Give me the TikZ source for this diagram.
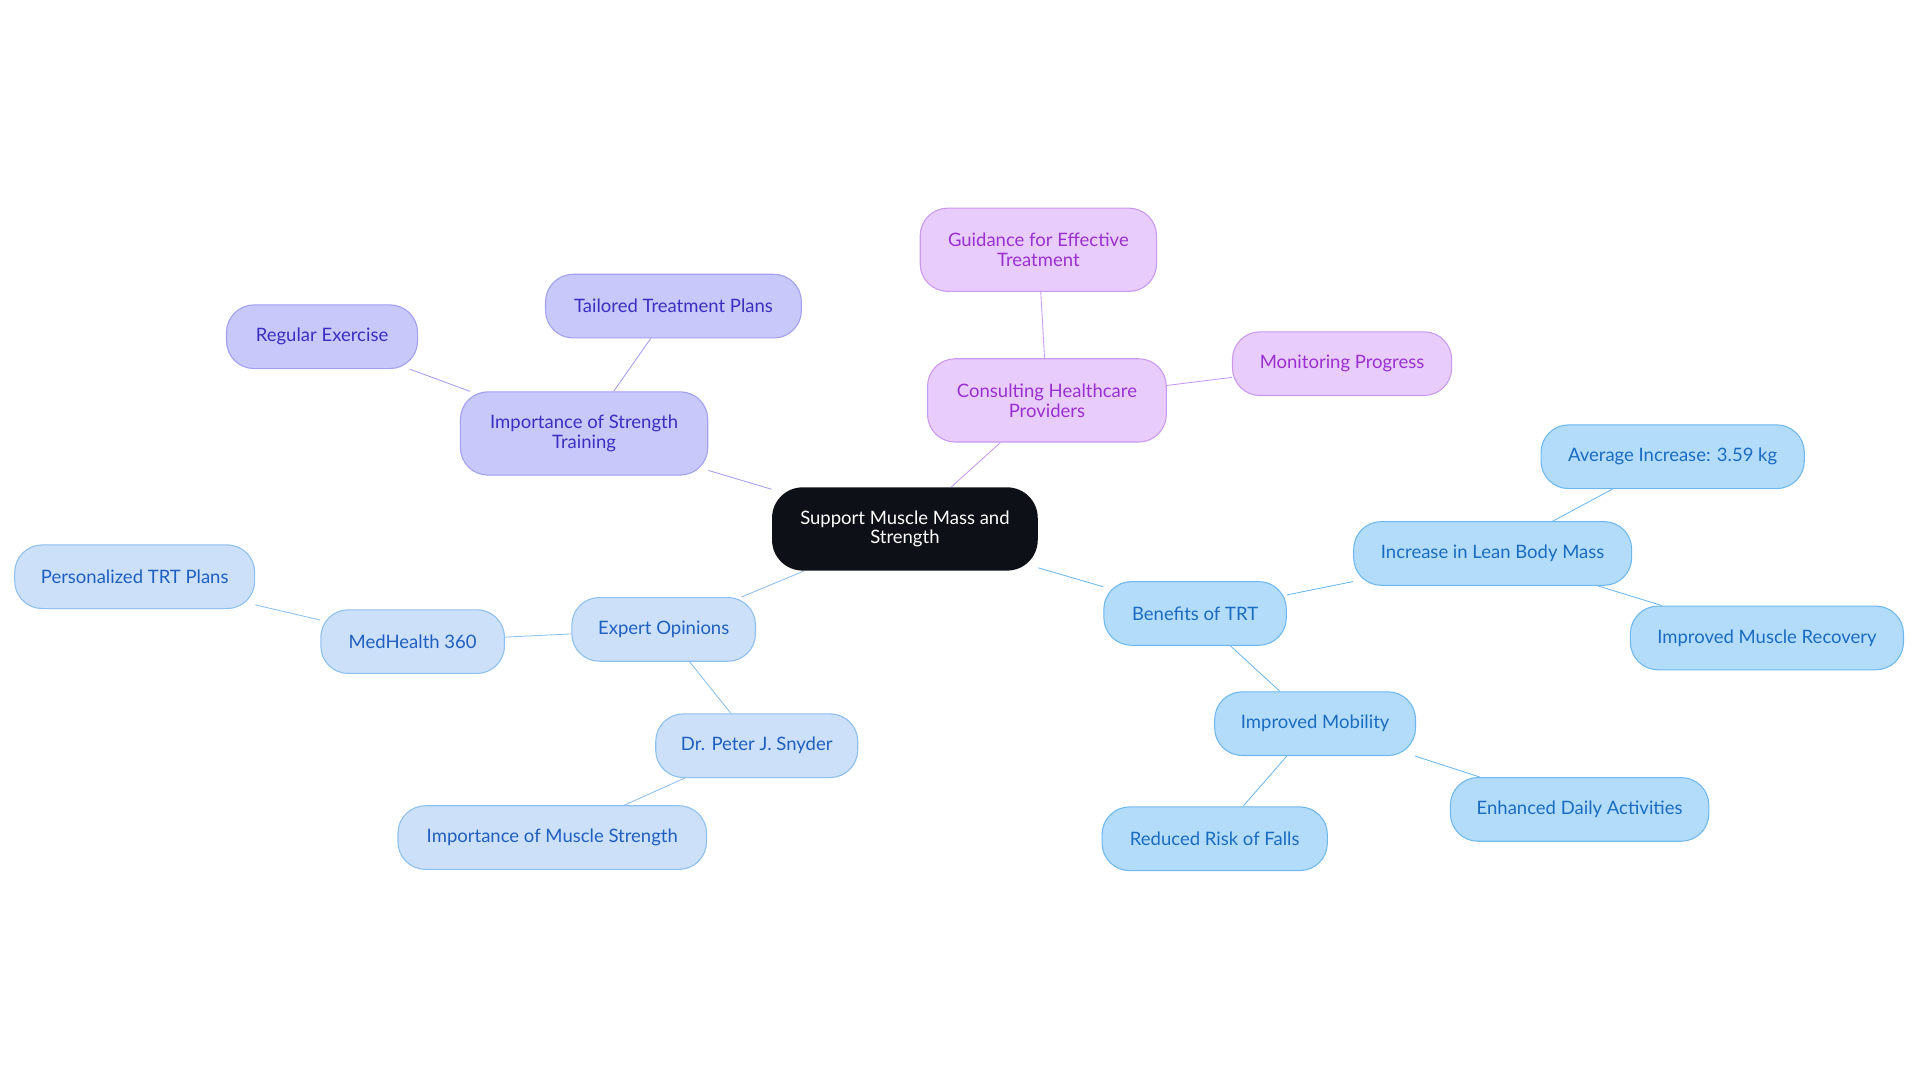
\documentclass[tikz,border=0pt]{standalone}
\usepackage{fontspec}
\setmainfont{Lato}
\usetikzlibrary{backgrounds}
\definecolor{rootfill}{HTML}{0D1117}
\definecolor{vioFill}{HTML}{C8C8FA}\definecolor{vioLine}{HTML}{A3A0F0}\definecolor{vioText}{HTML}{3A2FC0}
\definecolor{pinkFill}{HTML}{E8CCFC}\definecolor{pinkLine}{HTML}{C99AF0}\definecolor{pinkText}{HTML}{9B30D0}
\definecolor{skyFill}{HTML}{B3DCFA}\definecolor{skyLine}{HTML}{6FB8EE}\definecolor{skyText}{HTML}{1A6CC0}
\definecolor{paleFill}{HTML}{CCE0FA}\definecolor{paleLine}{HTML}{8EC0EE}\definecolor{paleText}{HTML}{1F5FC0}
\tikzset{
  box/.style={rounded corners=0.45cm, align=center, inner sep=0pt, minimum height=1.04cm,
    font=\fontsize{8.6}{9.2}\selectfont, line width=0.5pt},
  root/.style={box, fill=rootfill, text=white, minimum height=1.36cm, rounded corners=0.5cm},
  vio/.style={box, fill=vioFill, draw=vioLine, text=vioText},
  pink/.style={box, fill=pinkFill, draw=pinkLine, text=pinkText},
  sky/.style={box, fill=skyFill, draw=skyLine, text=skyText},
  pale/.style={box, fill=paleFill, draw=paleLine, text=paleText},
  w/.style={minimum width=#1*0.02cm}
}
\begin{document}
\begin{tikzpicture}[x=0.02cm,y=-0.02cm]
\useasboundingbox (0,0) rectangle (1568,884);
% root
\node[root, w=217] (c) at (739,432) {Support Muscle Mass and\\Strength};
% strength training
\node[vio, w=202, minimum height=1.36cm] (s1) at (477,354) {Importance of Strength\\Training};
\node[vio, w=156] (s1a) at (263,275) {Regular Exercise};
\node[vio, w=209] (s1b) at (550,250) {Tailored Treatment Plans};
% healthcare providers
\node[pink, w=195, minimum height=1.36cm] (p1) at (855,327) {Consulting Healthcare\\Providers};
\node[pink, w=193, minimum height=1.36cm] (p1a) at (848,204) {Guidance for Effective\\Treatment};
\node[pink, w=179] (p1b) at (1096,297) {Monitoring Progress};
% benefits
\node[sky, w=149] (b1) at (976,501) {Benefits of TRT};
\node[sky, w=227] (b1a) at (1219,452) {Increase in Lean Body Mass};
\node[sky, w=215] (b1a1) at (1366,373) {Average Increase: 3.59 kg};
\node[sky, w=223] (b1a2) at (1443,521) {Improved Muscle Recovery};
\node[sky, w=164] (b1b) at (1074,591) {Improved Mobility};
\node[sky, w=184] (b1b1) at (992,685) {Reduced Risk of Falls};
\node[sky, w=211] (b1b2) at (1290,661) {Enhanced Daily Activities};
% experts
\node[pale, w=150] (e1) at (542,514) {Expert Opinions};
\node[pale, w=150] (e1a) at (337,524) {MedHealth 360};
\node[pale, w=196] (e1a1) at (110,471) {Personalized TRT Plans};
\node[pale, w=165] (e1b) at (618,609) {Dr. Peter J. Snyder};
\node[pale, w=252] (e1b1) at (451,684) {Importance of Muscle Strength};
% connectors
\begin{scope}[on background layer, line width=1pt]
\draw[vioLine] (c) -- (s1) (s1) -- (s1a) (s1) -- (s1b);
\draw[pinkLine] (c) -- (p1) (p1) -- (p1a) (p1) -- (p1b);
\draw[skyLine] (c) -- (b1) (b1) -- (b1a) (b1a) -- (b1a1) (b1a) -- (b1a2)
  (b1) -- (b1b) (b1b) -- (b1b1) (b1b) -- (b1b2);
\draw[paleLine] (c) -- (e1) (e1) -- (e1a) (e1a) -- (e1a1) (e1) -- (e1b) (e1b) -- (e1b1);
\end{scope}
\end{tikzpicture}
\end{document}
